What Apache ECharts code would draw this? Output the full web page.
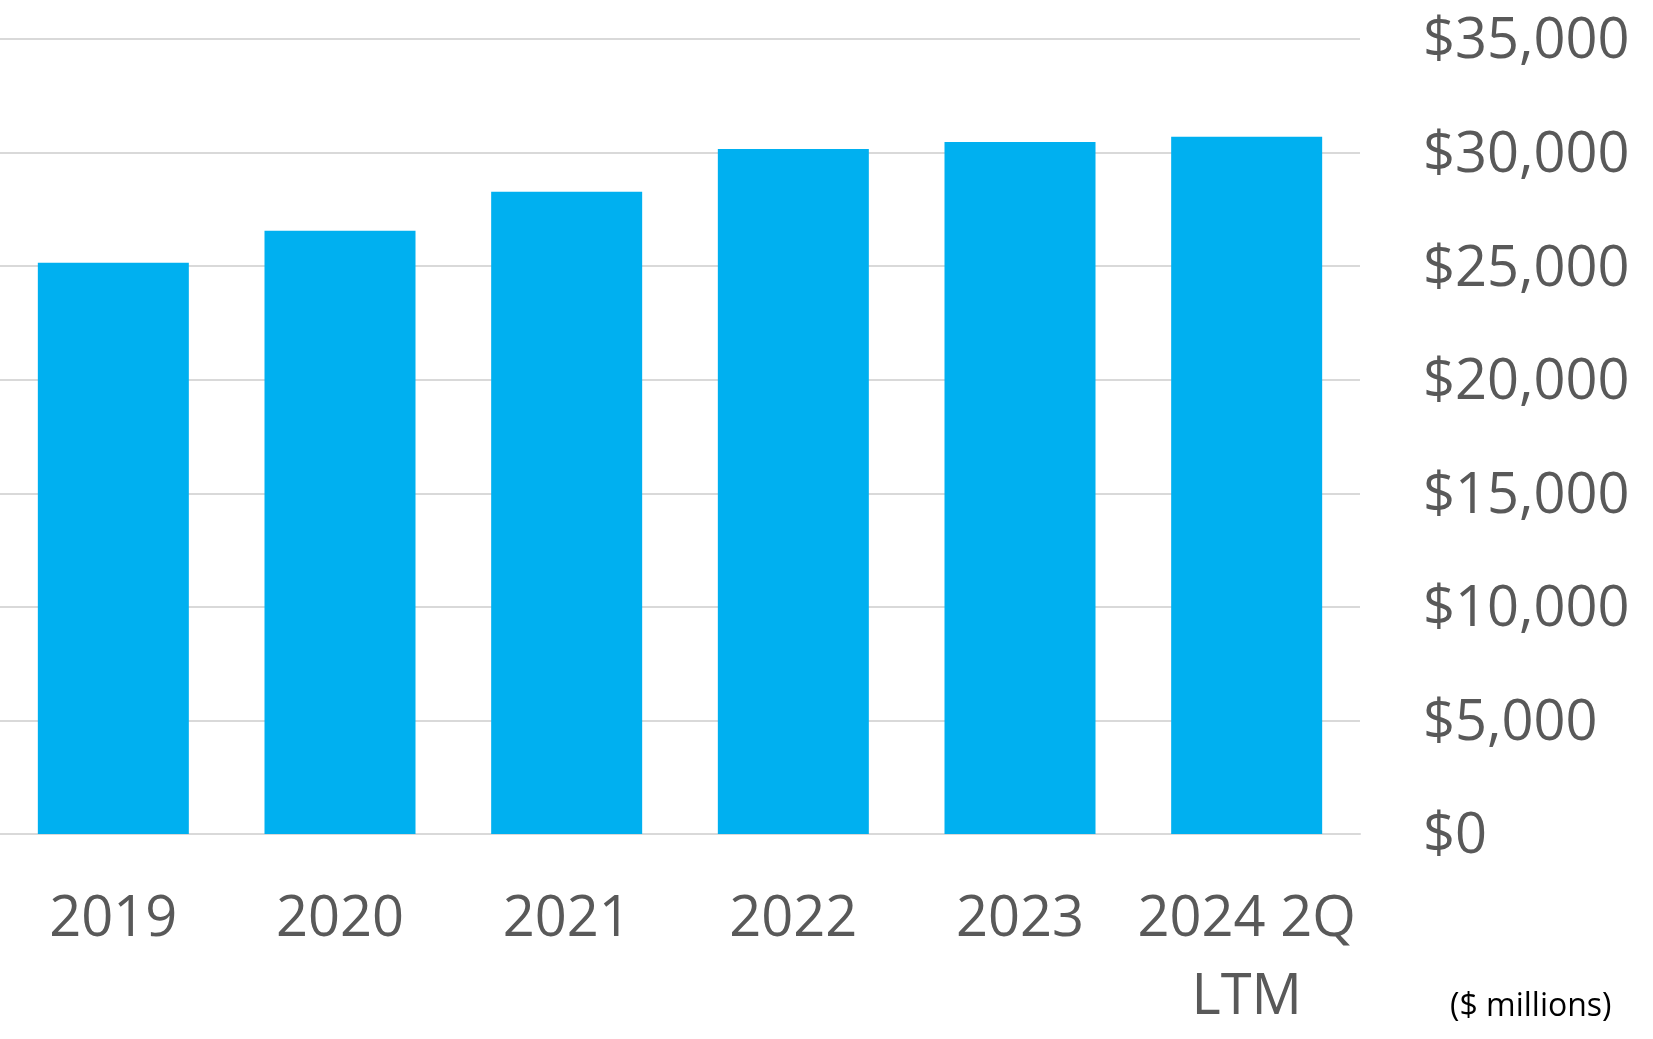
<!DOCTYPE html>
<html>
<head>
<meta charset="utf-8">
<script src="https://cdn.jsdelivr.net/npm/echarts@6/dist/echarts.min.js"></script>
<style>
html,body{margin:0;padding:0;background:#fff;}
#chart{width:1653px;height:1039px;}
</style>
</head>
<body>
<div id="chart"></div>
<script>
const categories = ['2019', '2020', '2021', '2022', '2023', '2024 2Q\nLTM'];
const values = [25150, 26560, 28270, 30160, 30470, 30700];
const yTicks = [0, 5000, 10000, 15000, 20000, 25000, 30000, 35000];
const unitNote = '($ millions)';

const chart = echarts.init(document.getElementById('chart'));
const font = '"Open Sans", "Noto Sans", sans-serif';
chart.setOption({
  animation: false,
  grid: { left: 0, right: 293, top: 39, bottom: 205, containLabel: false },
  xAxis: {
    type: 'category',
    data: categories,
    axisLine: { show: true, lineStyle: { color: '#d9d9d9', width: 2 } },
    axisTick: { show: false },
    axisLabel: {
      margin: 47,
      fontFamily: font,
      fontSize: 56,
      lineHeight: 78,
      color: '#595959',
      interval: 0
    }
  },
  yAxis: {
    type: 'value',
    position: 'right',
    min: yTicks[0],
    max: yTicks[yTicks.length - 1],
    interval: 5000,
    axisLine: { show: false },
    axisTick: { show: false },
    splitLine: { show: true, lineStyle: { color: '#d9d9d9', width: 2 } },
    axisLabel: {
      margin: 63,
      align: 'left',
      formatter: v => '{a|$' + v.toLocaleString('en-US') + '}',
      rich: {
        a: {
          fontFamily: font,
          fontSize: 56,
          color: '#595959',
          padding: [7, 0, 0, 0]
        }
      }
    }
  },
  series: [{
    type: 'bar',
    data: values,
    barWidth: 151,
    itemStyle: { color: '#00b0f0' }
  }],
  graphic: [{
    type: 'text',
    x: 1450,
    y: 1007,
    style: { text: unitNote, fontFamily: font, fontSize: 32, fill: '#000', verticalAlign: 'middle', align: 'left' }
  }]
});
</script>
</body>
</html>
